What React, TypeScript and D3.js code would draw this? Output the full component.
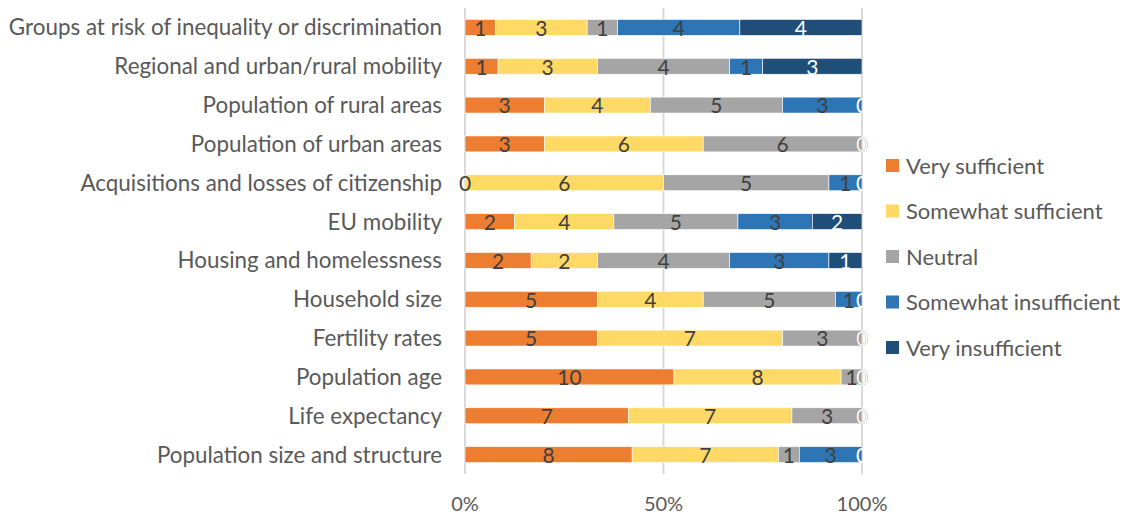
import { useEffect, useRef } from 'react'
import * as d3 from 'd3'

const categories = [
    'Groups at risk of inequality or discrimination',
    'Regional and urban/rural mobility',
    'Population of rural areas',
    'Population of urban areas',
    'Acquisitions and losses of citizenship',
    'EU mobility',
    'Housing and homelessness',
    'Household size',
    'Fertility rates',
    'Population age',
    'Life expectancy',
    'Population size and structure',
]

const seriesNames = ['Very sufficient', 'Somewhat sufficient', 'Neutral', 'Somewhat insufficient', 'Very insufficient']
const verySufficient = [1, 1, 3, 3, 0, 2, 2, 5, 5, 10, 7, 8]
const somewhatSufficient = [3, 3, 4, 6, 6, 4, 2, 4, 7, 8, 7, 7]
const neutral = [1, 4, 5, 6, 5, 5, 4, 5, 3, 1, 3, 1]
const somewhatInsufficient = [4, 1, 3, 0, 1, 3, 3, 1, 0, 0, 0, 3]
const veryInsufficient = [4, 3, 0, 0, 0, 2, 1, 0, 0, 0, 0, 0]
const xTicks = ['0%', '50%', '100%']

const colors = ['#ED7D31', '#FFD966', '#A5A5A5', '#2E75B6', '#1F4E79']
const labelColors = ['#404040', '#404040', '#404040', '#404040', '#ffffff']

const WIDTH = 1130
const HEIGHT = 517
const FONT = 'Lato, "Open Sans", sans-serif'

export default function App() {
    const svgRef = useRef<SVGSVGElement>(null)

    useEffect(() => {
        const svg = d3.select(svgRef.current)
        svg.selectAll('*').remove()

        const values = [verySufficient, somewhatSufficient, neutral, somewhatInsufficient, veryInsufficient]
        const rows = categories.map((c, i) => {
            const row: any = { category: c }
            seriesNames.forEach((s, k) => { row[s] = values[k][i] })
            return row
        })
        const stack = d3.stack().keys(seriesNames).offset(d3.stackOffsetExpand)
        const stacked = stack(rows)

        const margin = { left: 465, right: 268, top: 8, bottom: 43 }
        const innerW = WIDTH - margin.left - margin.right
        const innerH = HEIGHT - margin.top - margin.bottom

        const x = d3.scaleLinear().domain([0, 1]).range([0, innerW])
        const y = d3.scaleBand().domain(categories).range([0, innerH]).paddingInner(0.59).paddingOuter(0.295)

        const g = svg.append('g').attr('transform', `translate(${margin.left},${margin.top})`)

        // gridlines
        g.append('g')
            .selectAll('line')
            .data([0, 0.5, 1])
            .enter().append('line')
            .attr('x1', d => x(d)).attr('x2', d => x(d))
            .attr('y1', 0).attr('y2', innerH)
            .attr('stroke', '#d9d9d9')
            .attr('stroke-width', 2)

        // bars
        const layers = g.selectAll('.layer')
            .data(stacked)
            .enter().append('g')
            .attr('class', 'layer')
            .attr('fill', (_, i) => colors[i])

        layers.selectAll('rect')
            .data(d => d)
            .enter().append('rect')
            .attr('x', d => x(d[0]))
            .attr('y', d => y((d.data as any).category)!)
            .attr('width', d => x(d[1]) - x(d[0]))
            .attr('height', y.bandwidth())
            .attr('stroke', '#ffffff')
            .attr('stroke-width', 0.6)

        // data labels
        stacked.forEach((layer, k) => {
            g.append('g')
                .selectAll('text')
                .data(layer)
                .enter().append('text')
                .attr('x', d => x((d[0] + d[1]) / 2))
                .attr('y', d => y((d.data as any).category)! + y.bandwidth() / 2)
                .attr('dy', '0.4em')
                .attr('text-anchor', 'middle')
                .attr('font-family', FONT)
                .attr('font-size', 21)
                .attr('fill', labelColors[k])
                .text(d => (d.data as any)[seriesNames[k]])
        })

        // category labels
        g.append('g')
            .selectAll('text')
            .data(categories)
            .enter().append('text')
            .attr('x', -23)
            .attr('y', d => y(d)! + y.bandwidth() / 2)
            .attr('dy', '0.36em')
            .attr('text-anchor', 'end')
            .attr('font-family', FONT)
            .attr('font-size', 22.4)
            .attr('fill', '#595959')
            .text(d => d)

        // x tick labels
        g.append('g')
            .selectAll('text')
            .data(xTicks)
            .enter().append('text')
            .attr('x', (_, i) => x(i / (xTicks.length - 1)))
            .attr('y', innerH + 30)
            .attr('dy', '0.36em')
            .attr('text-anchor', 'middle')
            .attr('font-family', FONT)
            .attr('font-size', 20)
            .attr('fill', '#595959')
            .text(d => d)

        // legend
        const legend = svg.append('g').attr('transform', 'translate(886,166)')
        const item = legend.selectAll('g')
            .data(seriesNames)
            .enter().append('g')
            .attr('transform', (_, i) => `translate(0, ${i * 45.5})`)
        item.append('rect')
            .attr('x', 0).attr('y', -7)
            .attr('width', 13).attr('height', 13)
            .attr('fill', (_, i) => colors[i])
        item.append('text')
            .attr('x', 20)
            .attr('y', 0)
            .attr('dy', '0.36em')
            .attr('font-family', FONT)
            .attr('font-size', 22)
            .attr('fill', '#595959')
            .text(d => d)
    }, [])

    return (
        <svg
            ref={svgRef}
            width={WIDTH}
            height={HEIGHT}
            style={{ position: 'absolute', left: 0, top: 0, background: '#ffffff' }}
        />
    )
}
